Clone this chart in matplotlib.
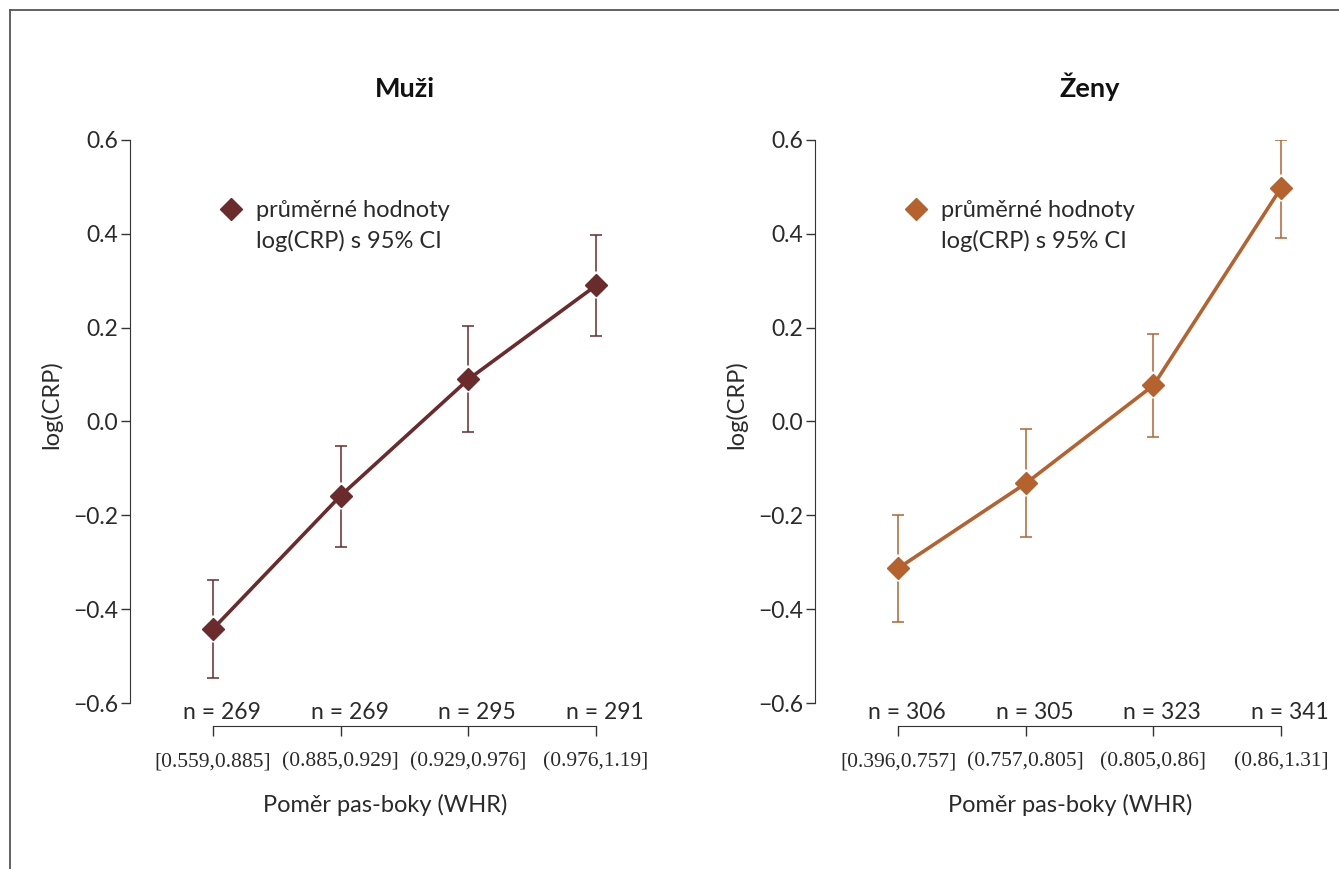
import matplotlib
matplotlib.use("Agg")
import matplotlib.pyplot as plt
from matplotlib.lines import Line2D

# ---- data ----
groups = ["Muži", "Ženy"]
bins_m = ["[0.559,0.885]", "(0.885,0.929]", "(0.929,0.976]", "(0.976,1.19]"]
bins_z = ["[0.396,0.757]", "(0.757,0.805]", "(0.805,0.86]", "(0.86,1.31]"]
n_m = [269, 269, 295, 291]
n_z = [306, 305, 323, 341]
mean_m = [-0.442, -0.158, 0.090, 0.290]
lo_m = [-0.547, -0.268, -0.023, 0.182]
hi_m = [-0.337, -0.052, 0.203, 0.397]
mean_z = [-0.313, -0.132, 0.077, 0.498]
lo_z = [-0.427, -0.246, -0.034, 0.391]
hi_z = [-0.199, -0.017, 0.186, 0.600]
colors = ["#6b2a2c", "#b5622f"]
yticks = [-0.6, -0.4, -0.2, 0.0, 0.2, 0.4, 0.6]

plt.rcParams['font.family'] = ['Lato', 'DejaVu Sans']
W, H = 1339, 869
PX = 72 / 100  # points per pixel
fig = plt.figure(figsize=(W / 100, H / 100), dpi=100)

# frame lines (top and left)
fig.add_artist(Line2D([10 / W, 1.0], [1 - 10 / H, 1 - 10 / H], color="#555555", lw=1.3))
fig.add_artist(Line2D([10 / W, 10 / W], [0, 1 - 10 / H], color="#555555", lw=1.3))

panels = [
    (130, groups[0], bins_m, n_m, mean_m, lo_m, hi_m, colors[0]),
    (815, groups[1], bins_z, n_z, mean_z, lo_z, hi_z, colors[1]),
]
ax_w = 510
TXT = "#2a2a2a"
for (x0, title, bins, ns, mean, lo, hi, col) in panels:
    ax = fig.add_axes([x0 / W, (H - 703) / H, ax_w / W, (703 - 140) / H])
    ax.set_facecolor("none")
    xs = [1, 2, 3, 4]
    xmin = 1 - 83 / 127.7
    ax.set_xlim(xmin, xmin + ax_w / 127.7)
    ax.set_ylim(-0.6, 0.6)
    yerr = [[m - l for m, l in zip(mean, lo)], [h - m for m, h in zip(mean, hi)]]
    ax.errorbar(xs, mean, yerr=yerr, fmt="none", ecolor=col, elinewidth=1.1,
                capsize=6 * PX, capthick=1.1, zorder=2)
    # white halo around markers (gap between marker and error bars)
    ax.plot(xs, mean, lw=0, marker="D", markersize=14.5, color="white",
            markeredgewidth=0, zorder=3, clip_on=False)
    ax.plot(xs, mean, color=col, lw=2.6, marker="D", markersize=11, zorder=4,
            clip_on=False)

    for s in ["top", "right"]:
        ax.spines[s].set_visible(False)
    ax.spines["left"].set_bounds(-0.6, 0.6)
    ax.spines["left"].set_color("#333333")
    ax.spines["bottom"].set_position(("outward", 23 * PX))
    ax.spines["bottom"].set_bounds(1, 4)
    ax.spines["bottom"].set_color("#333333")
    ax.set_yticks(yticks)
    ax.set_yticklabels([f"{v:.1f}".replace("-", "\u2212") for v in yticks])
    ax.tick_params(axis="y", direction="out", length=9 * PX, width=1, color="#333333",
                   labelsize=16.5, pad=2, labelcolor=TXT)
    ax.set_xticks(xs)
    ax.set_xticklabels(bins, fontfamily="Liberation Serif", fontsize=15.5, color=TXT)
    ax.tick_params(axis="x", direction="out", length=10 * PX, width=1, color="#333333", pad=12)
    ax.set_ylabel("log(CRP)", fontsize=17, color=TXT)
    ax.yaxis.set_label_coords((62 - 130) / ax_w, (703 - 405) / 563)
    ax.set_xlabel("Poměr pas-boky (WHR)", fontsize=17, color=TXT, labelpad=16)
    ax.set_title(title, fontsize=19.5, fontweight="bold", pad=31, color="#111111",
                 x=(2.5 - xmin) / (ax_w / 127.7))
    for x, n in zip(xs, ns):
        ax.text(x + 0.07, -0.621, f"n = {n}", ha="center", va="center",
                fontsize=16.5, color=TXT, clip_on=False)

    h1 = Line2D([], [], color=col, marker="D", markersize=11, lw=0)
    h2 = Line2D([], [], lw=0, marker=None)
    ax.legend([h1, h2], ["průměrné hodnoty", "log(CRP) s 95% CI"],
              loc="upper left", bbox_to_anchor=(0.157, 0.91), frameon=False,
              fontsize=17, handletextpad=0.55, handlelength=1.0, labelspacing=0.38,
              labelcolor=TXT, borderaxespad=0)

fig.savefig("out.png", dpi=100)
